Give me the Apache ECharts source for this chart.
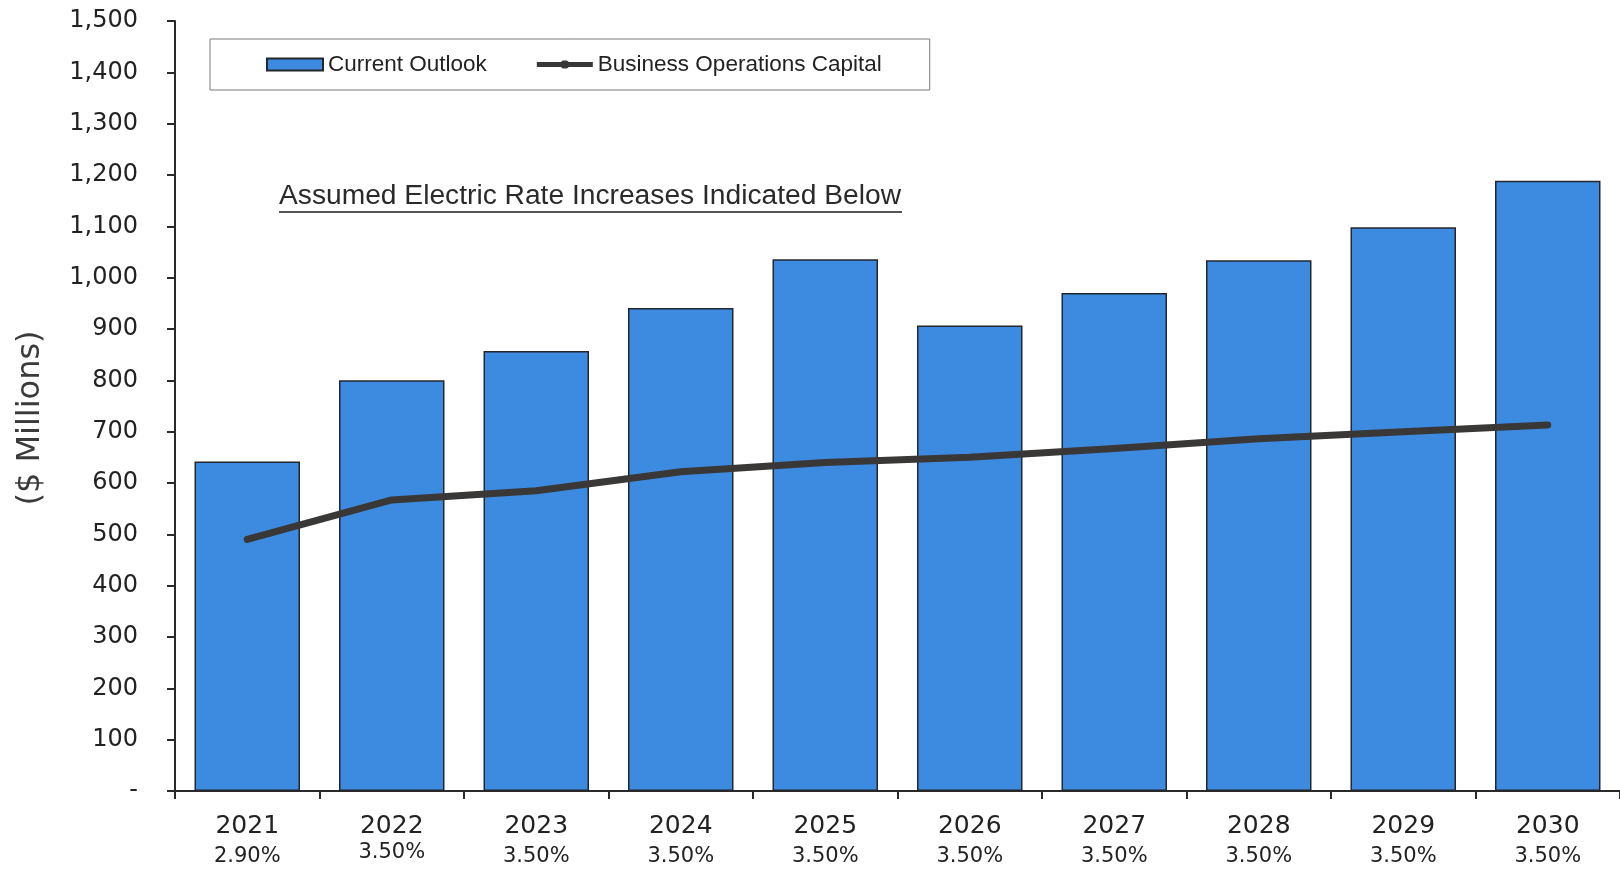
<!DOCTYPE html>
<html>
<head>
<meta charset="utf-8">
<script src="https://cdn.jsdelivr.net/npm/echarts@6/dist/echarts.min.js"></script>
<style>
  html, body { margin: 0; padding: 0; background: #ffffff; }
  #chart { width: 1620px; height: 870px; }
</style>
</head>
<body>
<div id="chart"></div>
<script>
// Fiscal years and the assumed electric rate increase for each
const years = ['2021', '2022', '2023', '2024', '2025', '2026', '2027', '2028', '2029', '2030'];
const rateIncreases = ['2.90%', '3.50%', '3.50%', '3.50%', '3.50%', '3.50%', '3.50%', '3.50%', '3.50%', '3.50%'];

// $ Millions
const currentOutlook = [642, 800, 857, 941, 1036, 907, 970, 1034, 1098, 1189];
const businessOpsCapital = [490, 567, 585, 622, 640, 650, 667, 686, 700, 713];

// Value axis range
const yMin = 0, yMax = 1500, yStep = 100;

const chart = echarts.init(document.getElementById('chart'));

const axisFont = 'DejaVu Sans, Verdana, sans-serif';
const legendFont = 'Liberation Sans, Arial, sans-serif';

// Legend glyph for the line series: a thick stroke with a small marker in the middle
// (the tiny corner subpaths keep the glyph's box 56x12 so it is not stretched)
const lineLegendIcon = 'path://M0,0L0.01,0L0.01,0.01Z M0,3.5L24,3.5L26,2L30,2L32,3.5L56,3.5L56,8.5L32,8.5L30,10L26,10L24,8.5L0,8.5Z M55.99,11.99L56,11.99L56,12Z';

chart.setOption({
  backgroundColor: '#ffffff',
  animation: false,
  grid: { left: 175, top: 21, width: 1450, bottom: 79, containLabel: false },
  legend: {
    left: 210,
    top: 39,
    orient: 'horizontal',
    borderColor: '#7a7a7a',
    borderWidth: 1,
    padding: [14, 48, 14, 56],
    itemGap: 50,
    itemWidth: 56,
    itemHeight: 12,
    textStyle: { fontFamily: legendFont, fontSize: 22.5, color: '#222' },
    data: [
      { name: 'Current Outlook', icon: 'rect' },
      { name: 'Business Operations Capital', icon: lineLegendIcon }
    ]
  },
  graphic: [
    {
      // value axis title, reading bottom to top
      type: 'text',
      x: 31,
      y: 418,
      rotation: Math.PI / 2,
      style: {
        text: '($ Millions)',
        fontFamily: axisFont,
        fontSize: 32,
        fill: '#3a3a3a',
        align: 'center',
        verticalAlign: 'middle'
      }
    },
    {
      type: 'text',
      style: {
        x: 279,
        y: 196,
        text: 'Assumed Electric Rate Increases Indicated Below',
        fontFamily: legendFont,
        fontSize: 28.2,
        fill: '#2a2a2a',
        verticalAlign: 'middle'
      }
    },
    {
      type: 'line',
      shape: { x1: 279, y1: 212, x2: 902, y2: 212 },
      style: { stroke: '#555', lineWidth: 2 }
    }
  ],
  xAxis: {
    type: 'category',
    data: years,
    boundaryGap: true,
    axisLine: { show: true, lineStyle: { color: '#2a2a2a', width: 2 } },
    axisTick: { show: true, length: 8, inside: false, lineStyle: { color: '#2a2a2a', width: 2 } },
    axisLabel: {
      margin: 19,
      formatter: function (value, index) {
        // the 2022 rate sits a little higher than the others
        const pStyle = index === 1 ? 'p2' : 'p';
        return '{y|' + value + '}\n{' + pStyle + '|' + rateIncreases[index] + '}';
      },
      rich: {
        y: { fontFamily: axisFont, fontSize: 25, lineHeight: 32, color: '#222' },
        p: { fontFamily: axisFont, fontSize: 21, lineHeight: 30, color: '#222' },
        p2: { fontFamily: axisFont, fontSize: 21, lineHeight: 21, color: '#222' }
      }
    }
  },
  yAxis: {
    type: 'value',
    min: yMin,
    max: yMax,
    interval: yStep,
    axisLine: { show: true, lineStyle: { color: '#2a2a2a', width: 2 } },
    axisTick: { show: true, length: 8, inside: false, lineStyle: { color: '#2a2a2a', width: 2 } },
    splitLine: { show: false },
    axisLabel: {
      margin: 37,
      fontFamily: axisFont,
      fontSize: 24,
      color: '#222',
      formatter: function (v) {
        return v === 0 ? '-' : v.toLocaleString('en-US');
      }
    }
  },
  series: [
    {
      name: 'Current Outlook',
      type: 'bar',
      data: currentOutlook,
      barCategoryGap: '27%',
      itemStyle: { color: '#3d8be0', borderColor: '#23272c', borderWidth: 1.5 }
    },
    {
      name: 'Business Operations Capital',
      type: 'line',
      data: businessOpsCapital,
      symbol: 'none',
      lineStyle: { color: '#3a3836', width: 7, cap: 'round', join: 'round' },
      itemStyle: { color: '#3a3836' }
    }
  ]
});
</script>
</body>
</html>
